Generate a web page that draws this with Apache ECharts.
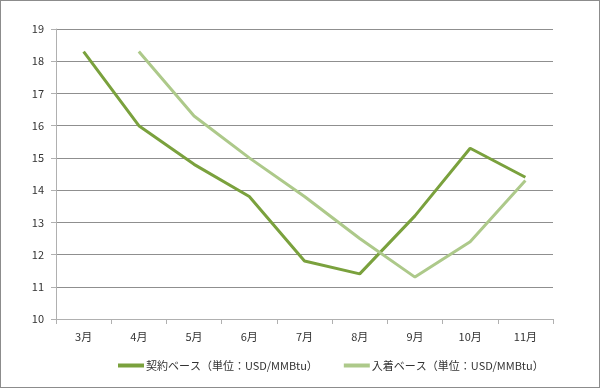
<!DOCTYPE html>
<html><head><meta charset="utf-8">
<script src="https://cdn.jsdelivr.net/npm/echarts@6/dist/echarts.min.js"></script>
<style>html,body{margin:0;padding:0;background:#fff}#c{width:598px;height:386px;border:1px solid #8c8c8c}</style>
</head><body><div id="c"></div>
<script>
const categories = ['3月','4月','5月','6月','7月','8月','9月','10月','11月'];
const contractBase = [18.3, 16.0, 14.8, 13.8, 11.8, 11.4, 13.2, 15.3, 14.4];
const arrivalBase = [null, 18.3, 16.3, 15.0, 13.8, 12.5, 11.3, 12.4, 14.3];
const seriesNames = ['契約ベース（単位：USD/MMBtu）','入着ベース（単位：USD/MMBtu）'];
const font = '"Noto Sans CJK JP", "DejaVu Sans", sans-serif';
const chart = echarts.init(document.getElementById('c'));
chart.setOption({
  animation:false,
  textStyle:{fontFamily:font},
  grid:{left:55,right:46,top:28,bottom:68},
  legend:{bottom:11,left:112,itemWidth:26,itemHeight:4,itemGap:26,icon:'rect',
    textStyle:{fontSize:11,color:'#333',fontFamily:font,padding:[0,0,0,-3]},data:seriesNames},
  xAxis:{type:'category',data:categories,boundaryGap:true,
    axisLine:{lineStyle:{color:'#b0b0b0',width:1}},
    axisTick:{show:true,length:5,lineStyle:{color:'#b0b0b0'}},
    axisLabel:{fontSize:11,color:'#333',margin:12}},
  yAxis:{type:'value',min:10,max:19,interval:1,
    axisLine:{show:true,lineStyle:{color:'#b0b0b0',width:1}},
    axisTick:{show:true,length:5,inside:false,lineStyle:{color:'#b0b0b0'}},
    splitLine:{lineStyle:{color:'#8f8f8f',width:1}},
    axisLabel:{fontSize:11,color:'#333',margin:12}},
  series:[
    {name:seriesNames[0],type:'line',data:contractBase,symbol:'none',
      lineStyle:{color:'#7aa13d',width:3},itemStyle:{color:'#7aa13d'}},
    {name:seriesNames[1],type:'line',data:arrivalBase,symbol:'none',
      lineStyle:{color:'#adc98a',width:3},itemStyle:{color:'#adc98a'}}
  ]
});
</script></body></html>
